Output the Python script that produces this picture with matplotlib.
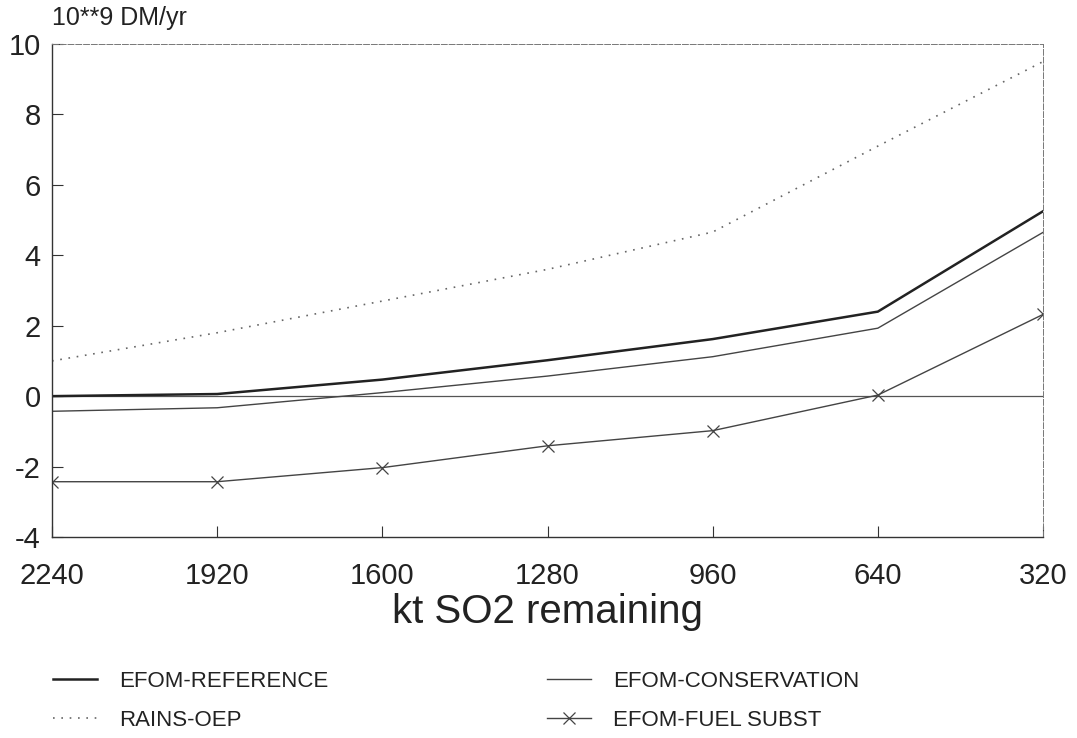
import matplotlib.pyplot as plt

# kt SO2 remaining (x axis runs from high to low)
so2 = [2240, 1920, 1600, 1280, 960, 640, 320]

# costs in 10**9 DM/yr
efom_reference = [0.0, 0.06, 0.47, 1.02, 1.62, 2.4, 5.25]
efom_conservation = [-0.43, -0.33, 0.1, 0.57, 1.12, 1.93, 4.65]
rains_oep = [1.0, 1.8, 2.7, 3.6, 4.66, 7.1, 9.5]
efom_fuel_subst = [-2.43, -2.43, -2.03, -1.41, -0.98, 0.03, 2.32]

yticks = [-4, -2, 0, 2, 4, 6, 8, 10]
xticks = so2

plt.rcParams['font.family'] = ['Liberation Sans', 'DejaVu Sans']
plt.rcParams['axes.unicode_minus'] = False

fig = plt.figure(figsize=(10.77, 7.38), dpi=100)
ax = fig.add_axes([52 / 1077, 1 - 537 / 738, (1043 - 52) / 1077, (537 - 44) / 738])

ax.axhline(0, color='#555555', lw=0.9)
l_ref, = ax.plot(so2, efom_reference, color='#222222', lw=1.8, label='EFOM-REFERENCE')
l_con, = ax.plot(so2, efom_conservation, color='#444444', lw=1.0, label='EFOM-CONSERVATION')
l_rai, = ax.plot(so2, rains_oep, color='#666666', lw=1.2, ls=(0, (1, 4)), label='RAINS-OEP')
l_fue, = ax.plot(so2, efom_fuel_subst, color='#444444', lw=1.0, marker='x', ms=9,
                 mew=0.9, label='EFOM-FUEL SUBST')

ax.set_xlim(2240, 320)
ax.set_ylim(-4, 10)
ax.set_xticks(xticks)
ax.set_yticks(yticks)
ax.tick_params(direction='in', length=8, width=0.8, color='#333333',
               labelsize=21, labelcolor='#222222')
ax.tick_params(axis='y', pad=8)
ax.tick_params(axis='x', pad=18)
for s in ['left', 'bottom']:
    ax.spines[s].set_color('#333333')
    ax.spines[s].set_linewidth(1.0)
for s in ['top', 'right']:
    ax.spines[s].set_color('#777777')
    ax.spines[s].set_linewidth(0.7)
    ax.spines[s].set_linestyle((0, (6, 2)))

ax.set_xlabel('kt SO2 remaining', fontsize=29, color='#222222', labelpad=2)
fig.text(52 / 1077, 1 - 18 / 738, '10**9 DM/yr', fontsize=18, color='#222222',
         va='center', ha='left')

fig.legend(handles=[l_ref, l_rai, l_con, l_fue], loc='upper left',
           bbox_to_anchor=(44 / 1077, 1 - 662 / 738), borderaxespad=0,
           ncol=2, frameon=False,
           fontsize=16, handlelength=2.0, handletextpad=1.0,
           columnspacing=9.8, labelspacing=0.8, labelcolor='#222222')

fig.savefig('out.png', dpi=100)
